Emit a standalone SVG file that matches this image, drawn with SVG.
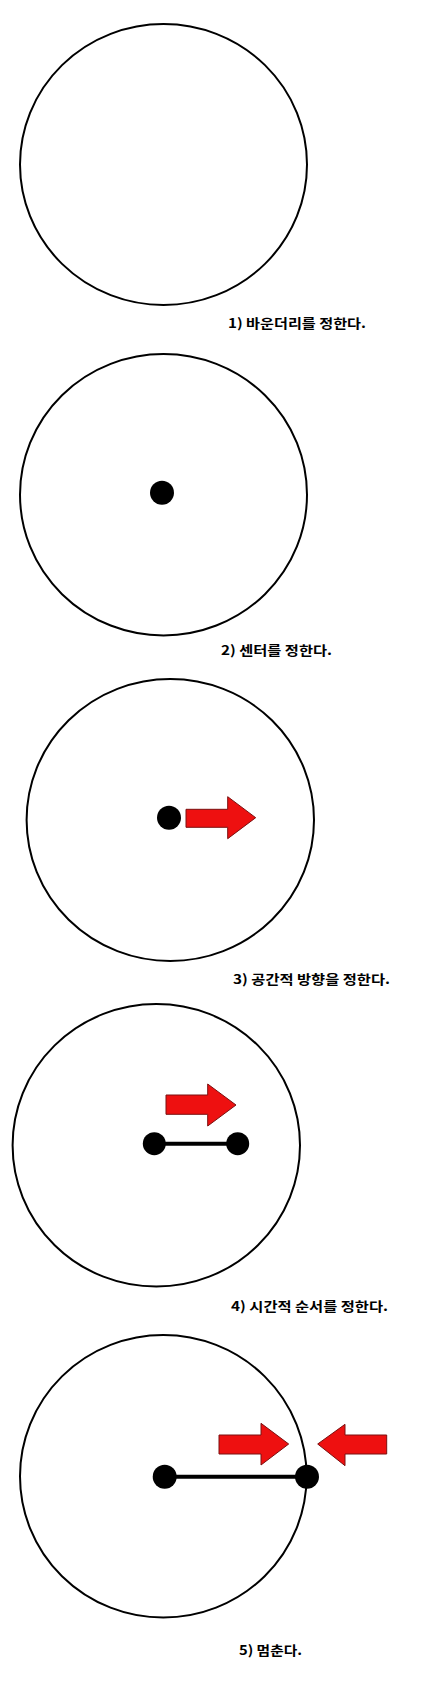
<svg xmlns="http://www.w3.org/2000/svg" width="434" height="1696" viewBox="0 0 434 1696">
<style>
.ring{fill:none;stroke:#000;stroke-width:2}
.dot{fill:#000}
.bar{stroke:#000;stroke-width:4}
.arr{fill:#ee1010;stroke:#7a1010;stroke-width:1;stroke-linejoin:miter}
.lbl{font-family:"Noto Sans CJK KR","Liberation Sans",sans-serif;font-size:13px;font-weight:bold;fill:#000}
</style>
<rect width="434" height="1696" fill="#fff"/>
<g id="step1">
<ellipse class="ring" cx="163.5" cy="164.5" rx="143.5" ry="140.5"/>
<text class="lbl" x="228" y="328" textLength="138" lengthAdjust="spacingAndGlyphs">1) 바운더리를 정한다.</text>
</g>
<g id="step2">
<ellipse class="ring" cx="163.5" cy="494.7" rx="143.5" ry="140.7"/>
<circle class="dot" cx="162" cy="492.7" r="12"/>
<text class="lbl" x="221" y="655" textLength="111" lengthAdjust="spacingAndGlyphs">2) 센터를 정한다.</text>
</g>
<g id="step3">
<ellipse class="ring" cx="170.3" cy="820" rx="143.7" ry="141"/>
<circle class="dot" cx="169" cy="817.7" r="12"/>
<polygon class="arr" points="186,809.3 227.7,809.3 227.7,796.7 255.7,817.7 227.7,838.7 227.7,827.3 186,827.3"/>
<text class="lbl" x="233" y="984" textLength="157" lengthAdjust="spacingAndGlyphs">3) 공간적 방향을 정한다.</text>
</g>
<g id="step4">
<ellipse class="ring" cx="156.3" cy="1145.3" rx="143.7" ry="141.3"/>
<line class="bar" x1="154.3" y1="1143.7" x2="237.7" y2="1143.7"/>
<circle class="dot" cx="154.3" cy="1143.7" r="11.5"/>
<circle class="dot" cx="237.7" cy="1143.7" r="11.5"/>
<polygon class="arr" points="166,1095 207.7,1095 207.7,1084 236,1105 207.7,1126 207.7,1114.3 166,1114.3"/>
<text class="lbl" x="231" y="1311" textLength="157" lengthAdjust="spacingAndGlyphs">4) 시간적 순서를 정한다.</text>
</g>
<g id="step5">
<ellipse class="ring" cx="163.3" cy="1476.3" rx="143.3" ry="141.3"/>
<line class="bar" x1="164.7" y1="1476.7" x2="307" y2="1476.7"/>
<circle class="dot" cx="164.7" cy="1476.7" r="12"/>
<circle class="dot" cx="307" cy="1476.7" r="12"/>
<polygon class="arr" points="219,1435 261,1435 261,1423.3 288.7,1444 261,1465 261,1454 219,1454"/>
<polygon class="arr" points="386.7,1435 345,1435 345,1424.3 317.7,1444 345,1465.7 345,1454 386.7,1454"/>
<text class="lbl" x="239" y="1655" textLength="63" lengthAdjust="spacingAndGlyphs">5) 멈춘다.</text>
</g>
</svg>
